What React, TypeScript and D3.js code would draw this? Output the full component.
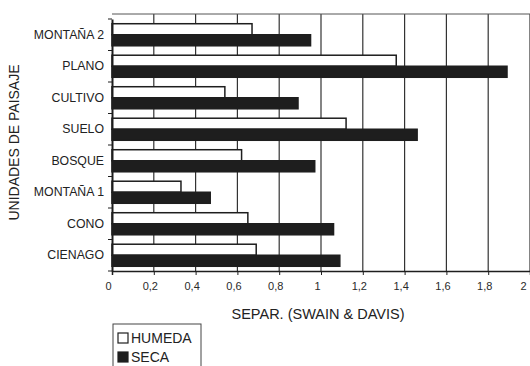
import React, { useRef, useEffect } from "react";
import * as d3 from "d3";

// categories top -> bottom
const categories = [
  "MONTAÑA 2",
  "PLANO",
  "CULTIVO",
  "SUELO",
  "BOSQUE",
  "MONTAÑA 1",
  "CONO",
  "CIENAGO",
];
const series = ["HUMEDA", "SECA"];
const humeda = [0.67, 1.36, 0.54, 1.12, 0.62, 0.33, 0.65, 0.69];
const seca = [0.95, 1.89, 0.89, 1.46, 0.97, 0.47, 1.06, 1.09];
const xTicks = [0, 0.2, 0.4, 0.6, 0.8, 1, 1.2, 1.4, 1.6, 1.8, 2];

const W = 530;
const H = 366;
const FONT = "'Liberation Sans', Arial, sans-serif";
const INK = "#1e1e1e";

const App = () => {
  const svgRef = useRef<SVGSVGElement>(null);

  useEffect(() => {
    const svg = d3.select(svgRef.current);
    svg.selectAll("*").remove();

    const plot = { left: 112, right: 530, top: 14, bottom: 271 };

    const x = d3.scaleLinear().domain([0, 2]).range([plot.left, plot.right]);
    const y = d3
      .scaleBand()
      .domain(categories)
      .range([19, plot.bottom])
      .paddingInner(0.3)
      .paddingOuter(0.15);
    const ySub = d3.scaleBand().domain(series).range([0, y.bandwidth()]);

    // gridlines
    svg
      .append("g")
      .selectAll("line")
      .data(xTicks.slice(1))
      .enter()
      .append("line")
      .attr("x1", (d) => x(d))
      .attr("x2", (d) => x(d))
      .attr("y1", plot.top)
      .attr("y2", plot.bottom)
      .attr("stroke", "#333")
      .attr("stroke-width", 1.2);

    // top frame line
    svg
      .append("line")
      .attr("x1", plot.left)
      .attr("x2", plot.right)
      .attr("y1", plot.top)
      .attr("y2", plot.top)
      .attr("stroke", "#555")
      .attr("stroke-width", 1);

    // bars
    const bars = svg.append("g");
    categories.forEach((c, i) => {
      const vals = [humeda[i], seca[i]];
      bars
        .append("g")
        .selectAll("rect")
        .data(vals)
        .enter()
        .append("rect")
        .attr("x", x(0))
        .attr("y", (_, j) => (y(c) as number) + (ySub(series[j]) as number))
        .attr("width", (d) => x(d) - x(0))
        .attr("height", ySub.bandwidth())
        .attr("fill", (_, j) => (j === 0 ? "#fff" : INK))
        .attr("stroke", INK)
        .attr("stroke-width", 1.5);
    });

    // x axis
    const xAxis = svg
      .append("g")
      .attr("transform", `translate(0,${plot.bottom})`)
      .call(
        d3
          .axisBottom(x)
          .tickValues(xTicks)
          .tickSize(4)
          .tickFormat((d) => d3.format("~g")(d as number).replace(".", ","))
      );
    xAxis.select(".domain").attr("stroke", INK).attr("stroke-width", 1.5);
    xAxis.selectAll(".tick line").attr("stroke", INK);
    xAxis
      .selectAll(".tick text")
      .attr("font-family", FONT)
      .attr("font-size", 11)
      .attr("fill", "#2a2a2a")
      .attr("dx", -4)
      .attr("dy", 12)
      .attr("text-anchor", (d) => ((d as number) === 2 ? "end" : "middle"));

    // y axis
    const yAxis = svg
      .append("g")
      .attr("transform", `translate(${plot.left},0)`)
      .call(d3.axisLeft(y).tickSize(0).tickPadding(8));
    yAxis.select(".domain").attr("stroke", INK).attr("stroke-width", 2);
    yAxis
      .selectAll(".tick text")
      .attr("font-family", FONT)
      .attr("font-size", 12.3)
      .attr("fill", "#222");
    // boundary ticks on y axis
    svg
      .append("g")
      .selectAll("line")
      .data(d3.range(categories.length + 1))
      .enter()
      .append("line")
      .attr("x1", plot.left - 4)
      .attr("x2", plot.left)
      .attr("y1", (i) => 19 + i * ((plot.bottom - 19) / categories.length))
      .attr("y2", (i) => 19 + i * ((plot.bottom - 19) / categories.length))
      .attr("stroke", INK);

    // axis titles
    svg
      .append("text")
      .attr("x", 318)
      .attr("y", 319)
      .attr("text-anchor", "middle")
      .attr("font-family", FONT)
      .attr("font-size", 14.5)
      .attr("fill", "#222")
      .text("SEPAR. (SWAIN & DAVIS)");

    svg
      .append("text")
      .attr("transform", `translate(19,${(plot.top + plot.bottom) / 2}) rotate(-90)`)
      .attr("text-anchor", "middle")
      .attr("font-family", FONT)
      .attr("font-size", 14)
      .attr("fill", "#222")
      .text("UNIDADES DE PAISAJE");

    // legend
    const legend = svg.append("g").attr("transform", "translate(113,324)");
    legend
      .append("rect")
      .attr("x", 0)
      .attr("y", 0)
      .attr("width", 88)
      .attr("height", 50)
      .attr("fill", "#fff")
      .attr("stroke", "#444");
    series.forEach((s, i) => {
      legend
        .append("rect")
        .attr("x", 5)
        .attr("y", 9 + i * 19)
        .attr("width", 10)
        .attr("height", 10)
        .attr("fill", i === 0 ? "#fff" : INK)
        .attr("stroke", INK)
        .attr("stroke-width", 1.2);
      legend
        .append("text")
        .attr("x", 18)
        .attr("y", 19 + i * 19)
        .attr("font-family", FONT)
        .attr("font-size", 14)
        .attr("fill", "#222")
        .text(s);
    });
  }, []);

  return (
    <svg
      ref={svgRef}
      width={W}
      height={H}
      style={{ position: "absolute", left: 0, top: 0, background: "#fff" }}
    ></svg>
  );
};

export default App;
